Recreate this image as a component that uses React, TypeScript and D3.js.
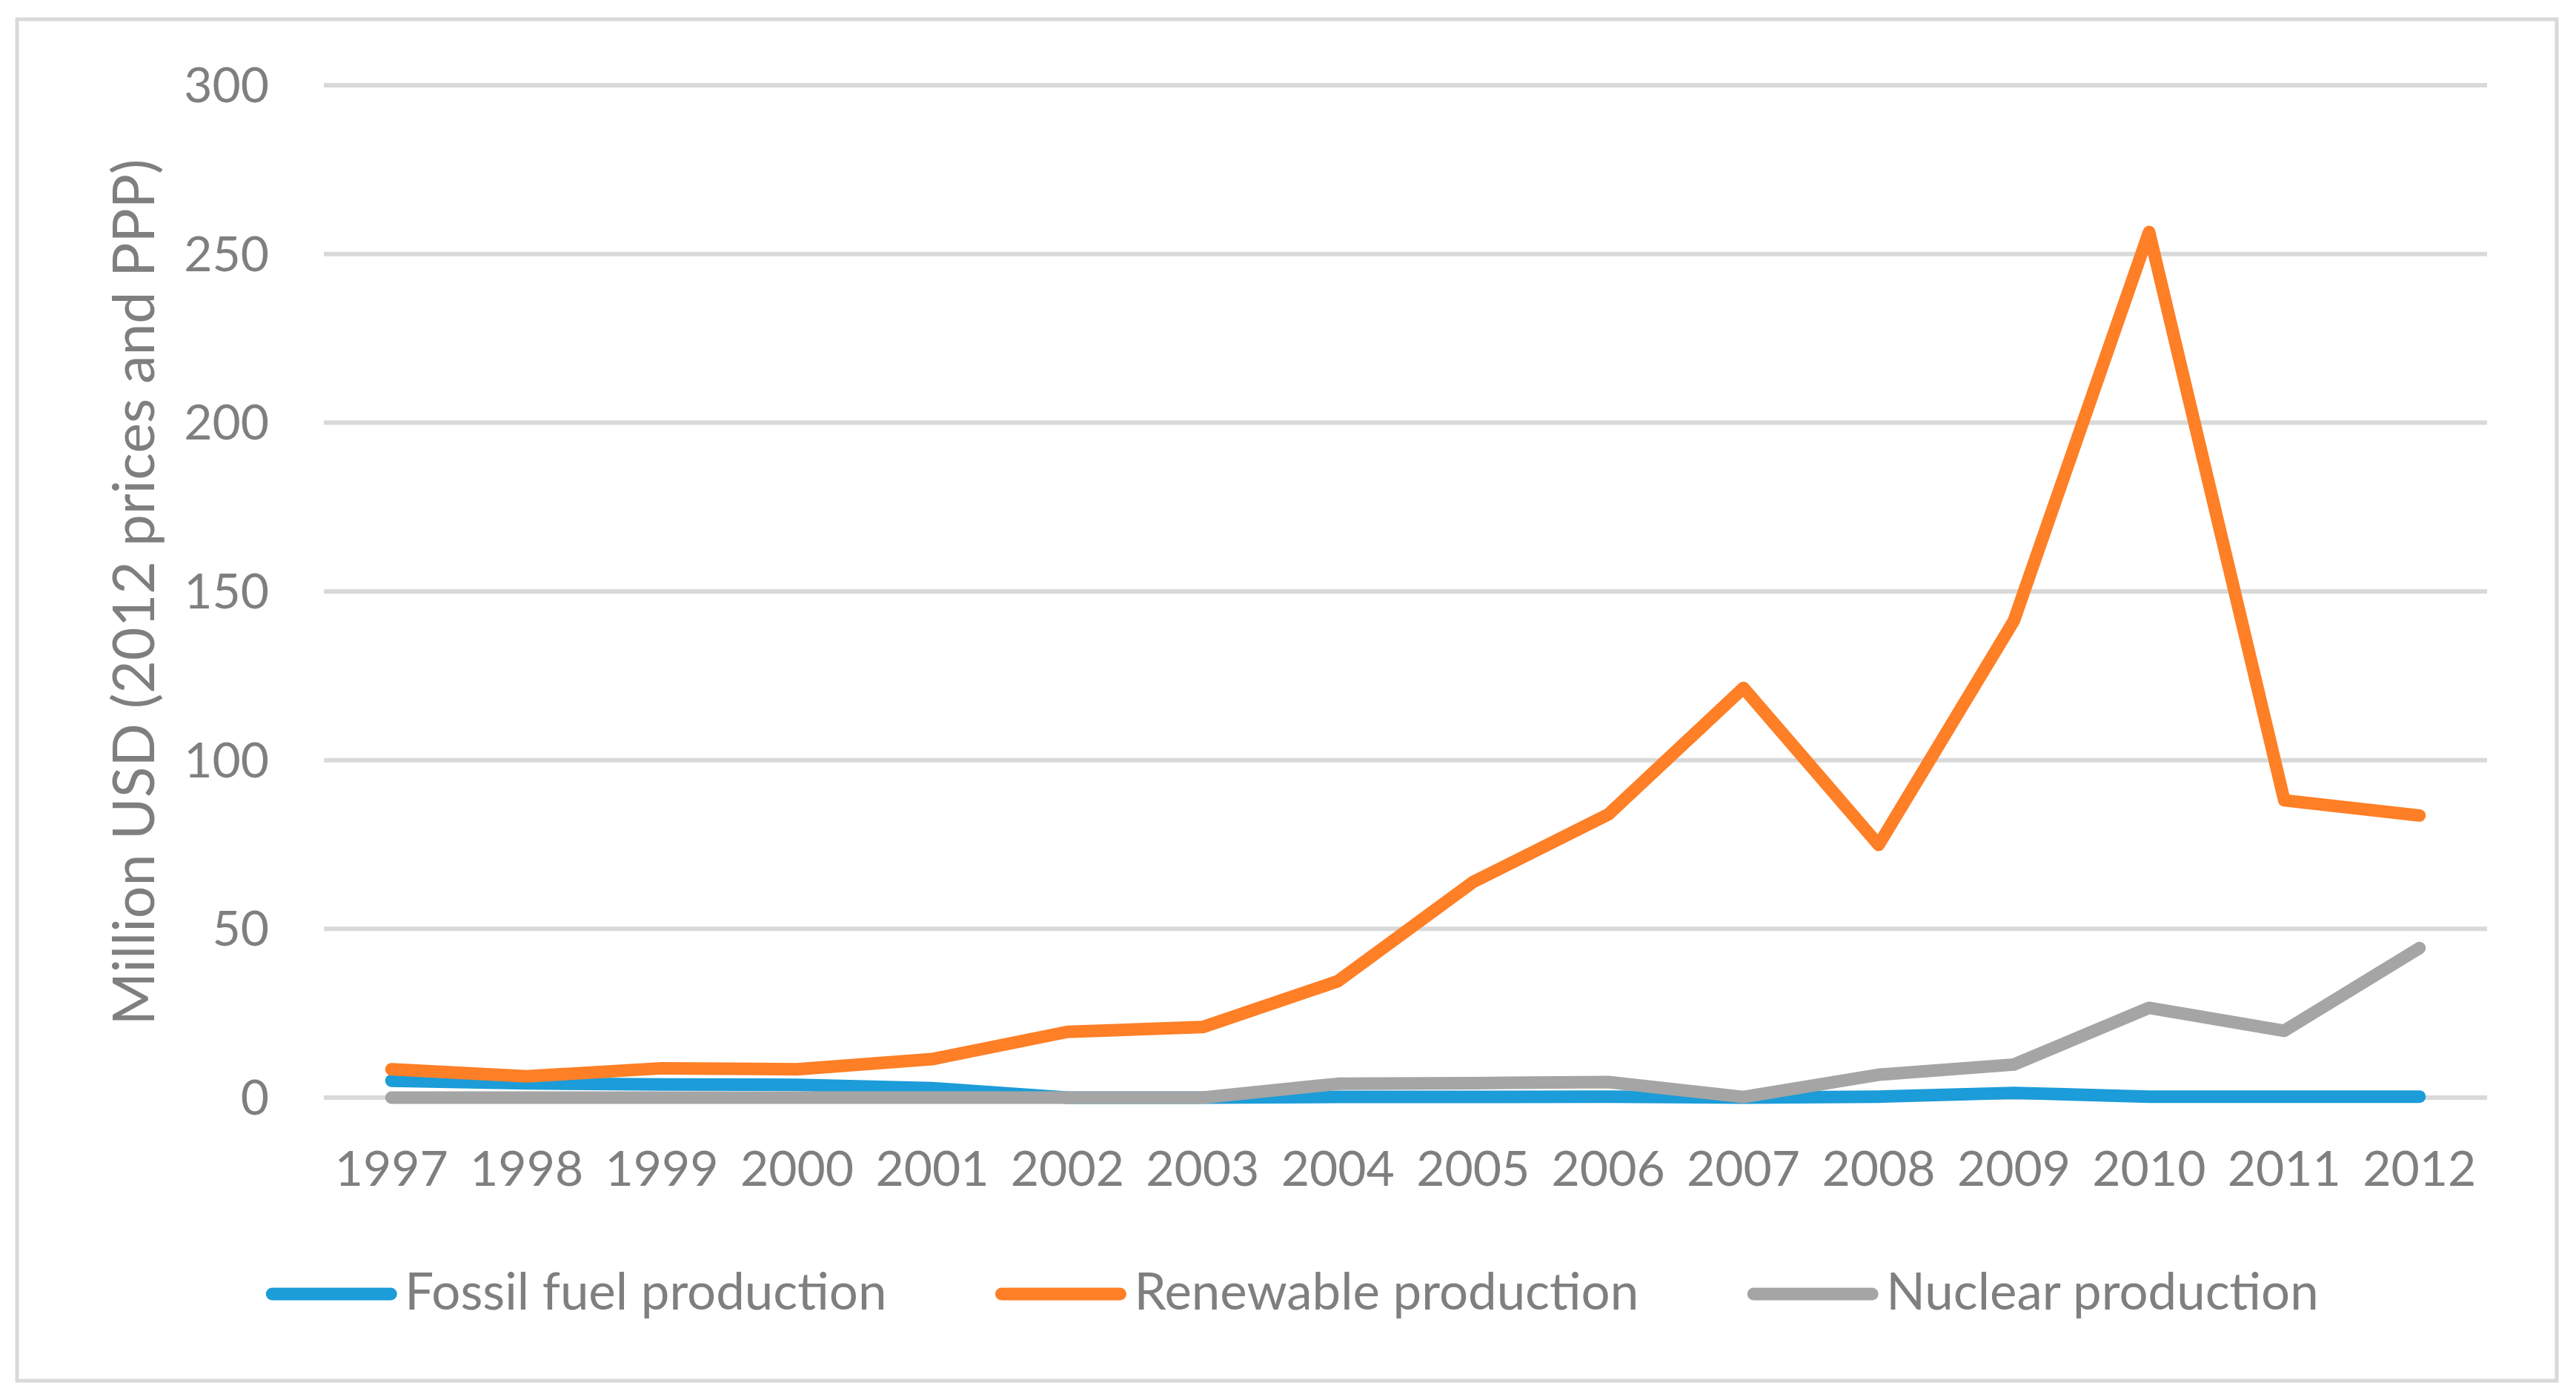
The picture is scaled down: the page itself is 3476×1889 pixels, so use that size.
import { useEffect, useRef } from 'react';
import * as d3 from 'd3';

const years = ['1997', '1998', '1999', '2000', '2001', '2002', '2003', '2004', '2005', '2006', '2007', '2008', '2009', '2010', '2011', '2012'];
const fossil = [5.0, 4.2, 3.9, 3.8, 2.8, 0, 0, 0.2, 0.2, 0.3, 0, 0.3, 1.4, 0.3, 0.3, 0.3];
const renewable = [8.4, 6.3, 8.7, 8.4, 11.4, 19.5, 20.9, 34.5, 63.9, 83.9, 121.4, 74.9, 141.3, 256.5, 88.1, 83.6];
const nuclear = [0, 0, 0, 0, 0, 0, 0, 4.1, 4.3, 4.6, 0.2, 6.8, 9.8, 26.6, 19.8, 44.3];
const yTicks = [0, 50, 100, 150, 200, 250, 300];

const seriesNames = ['Fossil fuel production', 'Renewable production', 'Nuclear production'];
const seriesColors = ['#1c9cd8', '#fe7f26', '#a5a5a5'];

const W = 3476;
const H = 1889;
const FONT = 'Lato, "Open Sans", sans-serif';
const TEXT = '#7f7f7f';
const GRID = '#d9d9d9';

export default function App() {
  const svgRef = useRef<SVGSVGElement>(null);

  useEffect(() => {
    document.body.style.margin = '0';
    if (!svgRef.current) return;

    const svg = d3.select(svgRef.current);
    svg.selectAll('*').remove();

    svg.append('rect').attr('width', W).attr('height', H).attr('fill', '#fff');

    // outer chart border
    svg
      .append('rect')
      .attr('x', 23)
      .attr('y', 26)
      .attr('width', 3427)
      .attr('height', 1837)
      .attr('fill', '#fff')
      .attr('stroke', GRID)
      .attr('stroke-width', 5);

    const x = d3.scalePoint<string>().domain(years).range([437, 3356]).padding(0.5);
    const y = d3.scaleLinear().domain([0, 300]).range([1481, 115]);

    // gridlines
    svg
      .append('g')
      .selectAll('line')
      .data(yTicks)
      .enter()
      .append('line')
      .attr('x1', 437)
      .attr('x2', 3356)
      .attr('y1', (d) => y(d))
      .attr('y2', (d) => y(d))
      .attr('stroke', GRID)
      .attr('stroke-width', 6);

    // y tick labels
    svg
      .append('g')
      .selectAll('text')
      .data(yTicks)
      .enter()
      .append('text')
      .attr('x', 363)
      .attr('y', (d) => y(d) + 23)
      .attr('text-anchor', 'end')
      .style('font-family', FONT)
      .style('font-size', '66px')
      .style('fill', TEXT)
      .text((d) => d);

    // x tick labels
    svg
      .append('g')
      .selectAll('text')
      .data(years)
      .enter()
      .append('text')
      .attr('x', (d) => x(d)!)
      .attr('y', 1600)
      .attr('text-anchor', 'middle')
      .style('font-family', FONT)
      .style('font-size', '66px')
      .style('fill', TEXT)
      .text((d) => d);

    // y axis title
    svg
      .append('text')
      .attr('transform', 'translate(208,799) rotate(-90)')
      .attr('text-anchor', 'middle')
      .style('font-family', FONT)
      .style('font-size', '77px')
      .style('fill', TEXT)
      .text('Million USD (2012 prices and PPP)');

    // lines
    const line = d3
      .line<number>()
      .x((_, i) => x(years[i])!)
      .y((d) => y(d));

    [fossil, renewable, nuclear].forEach((values, i) => {
      svg
        .append('path')
        .datum(values)
        .attr('d', line)
        .attr('fill', 'none')
        .attr('stroke', seriesColors[i])
        .attr('stroke-width', 17)
        .attr('stroke-linejoin', 'round')
        .attr('stroke-linecap', 'round');
    });

    // legend, centred under the chart
    const legend = svg.append('g');
    const lineLen = 160;
    const gapText = 11;
    const gapItem = 147;
    const items = seriesNames.map((name, i) => {
      const g = legend.append('g');
      g.append('line')
        .attr('x1', 8)
        .attr('x2', 8 + lineLen)
        .attr('y1', 0)
        .attr('y2', 0)
        .attr('stroke', seriesColors[i])
        .attr('stroke-width', 17)
        .attr('stroke-linecap', 'round');
      const t = g
        .append('text')
        .attr('x', lineLen + 16 + gapText)
        .attr('y', 21)
        .style('font-family', FONT)
        .style('font-size', '69px')
        .style('fill', TEXT)
        .text(name);
      const w = lineLen + 16 + gapText + (t.node() as SVGTextElement).getComputedTextLength();
      return { g, w };
    });
    const total = d3.sum(items, (d) => d.w) + gapItem * (items.length - 1);
    let cx = 1744 - total / 2;
    items.forEach(({ g, w }) => {
      g.attr('transform', `translate(${cx},1746)`);
      cx += w + gapItem;
    });
  }, []);

  return <svg ref={svgRef} width={W} height={H} style={{ display: 'block' }} />;
}
